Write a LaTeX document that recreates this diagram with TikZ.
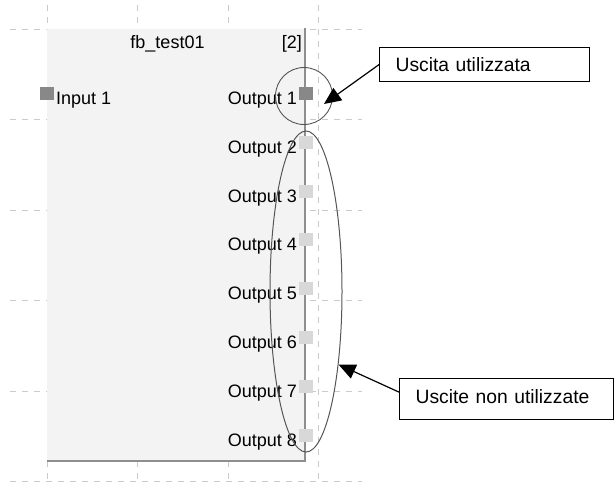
\documentclass[tikz,border=0pt]{standalone}
\usepackage{fontspec}
\setmainfont{Liberation Sans}
\usetikzlibrary{positioning,arrows.meta,shapes.geometric}
\definecolor{BlockFill}{HTML}{F3F3F3}
\definecolor{FrameGray}{HTML}{8E8E8E}
\definecolor{PinUsed}{HTML}{888888}
\definecolor{PinFree}{HTML}{D8D8D8}
\definecolor{GridGray}{HTML}{CACACA}
\definecolor{MarkGray}{HTML}{555555}

\begin{document}
\begin{tikzpicture}[x=1pt,y=-1pt,
    pinlabel/.style={font=\fontsize{18}{20}\selectfont, inner sep=0pt, text=black},
    pinbox/.style={minimum width=14pt, minimum height=13pt, inner sep=0pt},
    callout/.style={draw, line width=1.2pt, font=\fontsize{19.3}{22}\selectfont, inner xsep=16pt, inner ysep=0pt, anchor=north west, align=left},
    pointer/.style={-{Triangle[length=17pt,width=15pt]}, line width=1.2pt}]
    \useasboundingbox (0,0) rectangle (615,483);
    \foreach \gy in {29,119.5,210,300.5,391,481.5}
      \draw[GridGray, line width=0.8pt, dash pattern=on 6pt off 6pt] (10,\gy) -- (362,\gy);
    \foreach \gx in {47,137.5,228,318.5}
      \draw[GridGray, line width=0.8pt, dash pattern=on 6pt off 6pt] (\gx,5) -- (\gx,483);
    \fill[BlockFill] (47,29) rectangle (305,461);
    \draw[FrameGray, line width=2.2pt] (305,28) -- (305,461) -- (47,461);
    \node[pinlabel, anchor=base] (title) at (167.5,48.5) {fb\_test01};
    \node[pinlabel, anchor=base east] (index) at (302,48.5) {[2]};
    \node[pinbox, fill=PinUsed] (in1) at (46.5,93.5) {};
    \node[pinlabel, anchor=base west] (inlab1) at (56,104.5) {Input 1};
    \node[pinbox, fill=PinUsed] (out1) at (306,93.5) {};
    \node[pinlabel, anchor=base east] (outlab1) at (297,104.5) {Output 1};
    \foreach \n in {2,...,8} {
      \node[pinbox, fill=PinFree] (out\n) at (306,{93.5+(\n-1)*48.8}) {};
      \node[pinlabel, anchor=base east] (outlab\n) at (297,{104.5+(\n-1)*48.8}) {Output \n};
    }
    \node[circle, draw=MarkGray, line width=0.9pt, minimum size=57pt, inner sep=0pt] (usedring) at (304,96) {};
    \node[ellipse, draw=MarkGray, line width=1pt, minimum width=72pt, minimum height=321pt, inner sep=0pt] (freering) at (306,291.5) {};
    \node[callout, text width=178pt, minimum height=34pt] (used) at (379,47) {Uscita utilizzata};
    \node[callout, text width=182pt, minimum height=41pt, text depth=6pt] (unused) at (399,378) {Uscite non utilizzate};
    \coordinate (usedtip) at (324,104);
    \draw[pointer] (used.west) -- (usedtip);
    \draw[pointer] ([yshift=7pt]unused.west) -- (freering.-66.8);
  \end{tikzpicture}
\end{document}
